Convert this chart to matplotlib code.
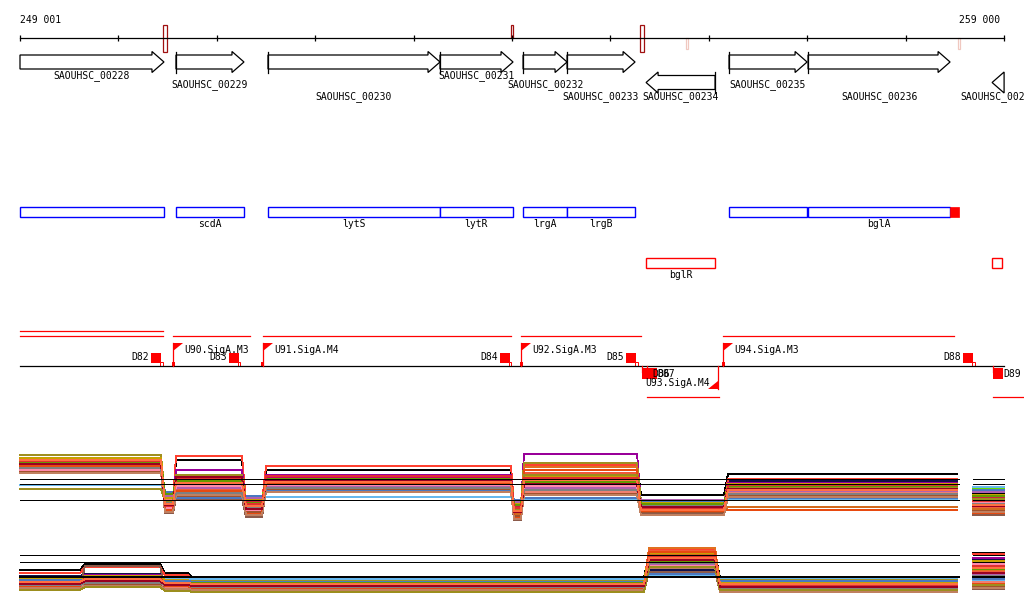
import numpy as np
import matplotlib
matplotlib.use("Agg")
import matplotlib.pyplot as plt
from matplotlib.patches import Polygon, Rectangle

plt.rcParams['font.family'] = ['DejaVu Sans Mono', 'DejaVu Sans']

# ---- data -------------------------------------------------------------
view_start, view_end = 249001, 259000
ruler_ticks = [249001, 250000, 251000, 252000, 253000, 254000, 255000,
               256000, 257000, 258000, 259000]

# marks on the ruler (bp), strong ones dark red, weak ones pale
mark_start = [250454, 253990, 255306, 255769, 258533]
mark_end = [250495, 254010, 255337, 255790, 258553]
mark_kind = ['tall', 'short', 'tall', 'weak', 'weak']

gene_names = ['SAOUHSC_00228', 'SAOUHSC_00229', 'SAOUHSC_00230', 'SAOUHSC_00231',
              'SAOUHSC_00232', 'SAOUHSC_00233', 'SAOUHSC_00234', 'SAOUHSC_00235',
              'SAOUHSC_00236', 'SAOUHSC_00237']
gene_start = [249001, 250586, 251521, 253269, 254113, 254560, 255363, 256206, 257009, 258879]
gene_end = [250464, 251277, 253269, 254011, 254560, 255251, 256064, 256999, 258452, 259001]
gene_strand = ['+', '+', '+', '+', '+', '+', '-', '+', '+', '-']
label_row = [0, 1, 2, 0, 1, 2, 2, 1, 2, 2]

gene_symbol = ['', 'scdA', 'lytS', 'lytR', 'lrgA', 'lrgB', 'bglR', '', 'bglA', '']

# transcription units
tu_upper_start = [249001, 249001, 250556, 251470, 254092, 256145]
tu_upper_end = [250454, 250454, 251338, 253990, 255311, 258492]
tu_upper_row = [0, 1, 1, 1, 1, 1]
tu_lower_start = [255372, 258888]
tu_lower_end = [256104, 259300]

prom_names = ['U90.SigA.M3', 'U91.SigA.M4', 'U92.SigA.M3', 'U94.SigA.M3', 'U93.SigA.M4']
prom_pos = [250556, 251470, 254092, 256145, 256094]
prom_strand = ['+', '+', '+', '+', '-']

term_names = ['D82', 'D83', 'D84', 'D85', 'D88', 'D86', 'D87', 'D89']
term_pos = [250434, 251226, 253980, 255261, 258685, 255322, 255372, 258888]
term_strand = ['+', '+', '+', '+', '+', '-', '-', '-']

# expression track 1: segment edges (bp) and level of each profile per segment
t1_seg_start = [249001, 250474, 250586, 251298, 251501, 254021, 254122, 255311, 256195, 258685]
t1_seg_end = [250434, 250556, 251257, 251460, 253990, 254092, 255271, 256155, 258522, 259000]
t1_s0 = [62, 57, 66, 63, 70, 64, 65, 61, 60, 53, 40, 59, 58, 56, 54, 62, 67, 60, 58, 55, 63, 59, 52, 57, 36, 64, 61, 65]
t1_s1 = [20, 26, 24, 22, 28, 18, 30, 14, 21, 12, 32, 16, 19, 25, 20, 23, 27, 29, 33, 17, 31, 15, 13, 22, 24, 19, 20, 21]
t1_s2 = [65, 28, 69, 55, 50, 45, 40, 38, 43, 26, 36, 35, 33, 31, 29, 41, 46, 37, 27, 39, 44, 34, 30, 32, 42, 47, 48, 42]
t1_s3 = [15, 18, 22, 20, 24, 12, 26, 16, 19, 8, 28, 14, 17, 21, 13, 23, 25, 27, 29, 15, 22, 11, 10, 18, 20, 21, 16, 19]
t1_s4 = [55, 40, 59, 50, 48, 46, 44, 43, 47, 35, 28, 41, 39, 37, 36, 45, 42, 38, 34, 40, 46, 42, 33, 37, 44, 49, 44, 43]
t1_s5 = [12, 15, 20, 18, 22, 10, 16, 8, 14, 5, 24, 12, 11, 17, 9, 19, 21, 23, 25, 13, 20, 7, 6, 16, 15, 17, 13, 14]
t1_s6 = [62, 38, 60, 71, 62, 58, 44, 40, 42, 34, 25, 52, 36, 33, 31, 46, 48, 37, 27, 39, 43, 55, 30, 35, 50, 47, 41, 45]
t1_s7 = [30, 20, 18, 22, 24, 16, 14, 12, 19, 11, 23, 17, 15, 21, 13, 20, 22, 25, 24, 18, 21, 14, 10, 19, 17, 16, 18, 15]
t1_s8 = [51, 44, 46, 42, 40, 38, 37, 36, 39, 30, 26, 33, 18, 32, 29, 35, 41, 34, 27, 36, 38, 15, 28, 31, 37, 40, 36, 35]
t1_s9 = [32, 30, 28, 26, 34, 22, 36, 20, 24, 10, 38, 18, 16, 25, 14, 27, 30, 33, 35, 23, 29, 12, 13, 21, 26, 24, 19, 20]
t1_ref = [46, 41, 25]

# expression track 2
t2_seg_start = [249001, 249661, 250474, 250759, 255393, 256114, 258685]
t2_seg_end = [249611, 250424, 250708, 255342, 256064, 258522, 259000]
t2_s0 = [30, 24, 27, 22, 20, 17, 19, 15, 18, 12, 21, 16, 14, 13, 11, 19, 21, 17, 20, 16, 18, 14, 12, 15, 10, 17, 16, 18]
t2_s1 = [36, 26, 33, 25, 23, 21, 22, 18, 20, 34, 22, 19, 17, 16, 15, 21, 24, 18, 19, 17, 20, 18, 14, 17, 13, 22, 19, 21]
t2_s2 = [27, 20, 25, 18, 22, 16, 19, 14, 17, 10, 21, 15, 13, 12, 11, 18, 20, 16, 19, 15, 17, 14, 11, 15, 9, 16, 15, 17]
t2_s3 = [22, 17, 19, 16, 20, 14, 18, 13, 15, 9, 21, 12, 11, 12, 10, 15, 17, 16, 18, 14, 17, 11, 10, 13, 8, 15, 14, 16]
t2_s4 = [47, 30, 50, 44, 45, 52, 42, 40, 41, 28, 24, 49, 46, 38, 36, 43, 47, 35, 26, 34, 39, 48, 32, 37, 33, 44, 40, 42]
t2_s5 = [23, 19, 17, 15, 20, 14, 18, 16, 13, 8, 22, 12, 10, 11, 9, 14, 17, 15, 19, 13, 16, 9, 8, 12, 10, 15, 13, 16]
t2_s6 = [47, 40, 46, 42, 37, 30, 35, 25, 33, 11, 20, 28, 22, 18, 14, 38, 39, 26, 21, 36, 31, 16, 12, 24, 15, 34, 27, 32]
t2_ref = [45, 38]
t2_base = 23

line_colors = ['#000000', '#10104a', '#ff4030', '#990099', '#a09020', '#e07020', '#66dd00',
               '#99bb00', '#cc0066', '#8b5a4a', '#66b8ee', '#f05a3a', '#d2691e', '#f08070',
               '#a0522d', '#cc2040', '#c8a000', '#b060b0', '#4a78c0', '#ff88aa', '#669900',
               '#e84a10', '#c08060', '#808080', '#9c8e1e', '#e03030', '#990022', '#ff7040']

# ---- figure -----------------------------------------------------------
bp_px = (view_end - view_start) / 984.0
x_left = view_start - 20 * bp_px
x_right = view_start + 1004 * bp_px
gap_start, gap_end = 258540, 258680

fig = plt.figure(figsize=(10.24, 6.11), dpi=100)
ax = fig.add_axes([0, 0, 1, 1])
ax.set_xlim(x_left, x_right)
ax.set_ylim(611, 0)
ax.axis('off')
fs = 7

# ruler
ax.plot([view_start, view_end], [38, 38], color='black', lw=0.9)
ax.vlines(ruler_ticks, 35, 41, color='black', lw=0.9)
ax.text(view_start, 20, '249 001', fontsize=fs, ha='left', va='center')
ax.text(view_end - 40, 20, '259 000', fontsize=fs, ha='right', va='center')
for s, e, k in zip(mark_start, mark_end, mark_kind):
    if k == 'tall':
        ax.add_patch(Rectangle((s, 25), e - s, 27, fc='white', ec='#a01010', lw=0.9))
    elif k == 'short':
        ax.add_patch(Rectangle((s, 25), e - s, 13, fc='white', ec='#a01010', lw=0.9))
    else:
        ax.add_patch(Rectangle((s, 38), e - s, 11, fc='white', ec='#f0c8c0', lw=0.9))

# gene arrows
head = 12 * bp_px
row_y = [76, 85, 97]
for name, s, e, st, r in zip(gene_names, gene_start, gene_end, gene_strand, label_row):
    if st == '+':
        yc = 62
        hb = max(e - head, s)
        pts = [(s, yc - 7), (hb, yc - 7), (hb, yc - 10.5), (e, yc), (hb, yc + 10.5), (hb, yc + 7), (s, yc + 7)]
        if s > view_start:
            ax.plot([s, s], [yc - 10.5, yc + 10.5], color='black', lw=0.9)
    else:
        yc = 82.5
        hb = min(s + head, e)
        pts = [(e, yc - 7), (hb, yc - 7), (hb, yc - 10.5), (s, yc), (hb, yc + 10.5), (hb, yc + 7), (e, yc + 7)]
        if e < view_end:
            ax.plot([e, e], [yc - 10.5, yc + 10.5], color='black', lw=0.9)
    ax.add_patch(Polygon(pts, closed=True, fc='white', ec='black', lw=0.9))
    ax.text((s + e) / 2, row_y[r], name, fontsize=fs, ha='center', va='center')

# gene symbol boxes
for sym, s, e, st in zip(gene_symbol, gene_start, gene_end, gene_strand):
    if st == '+':
        ax.add_patch(Rectangle((s, 207), e - s, 10, fc='white', ec='#0000ff', lw=1.0))
        if sym:
            ax.text((s + e) / 2, 224, sym, fontsize=fs, ha='center', va='center')
    else:
        e2 = min(e, view_end - 20)
        ax.add_patch(Rectangle((s, 258), e2 - s, 10, fc='white', ec='#ff0000', lw=1.0))
        if sym:
            ax.text((s + e) / 2, 275, sym, fontsize=fs, ha='center', va='center')
ax.add_patch(Rectangle((gene_end[8], 207), 9 * bp_px, 10, fc='#ff0000', ec='#ff0000', lw=0.5))

# transcription units, promoters, terminators
ax.plot([view_start, view_end], [366, 366], color='black', lw=0.9)
for s, e, r in zip(tu_upper_start, tu_upper_end, tu_upper_row):
    y = 331 if r == 0 else 336
    ax.plot([s, e], [y, y], color='#ff0000', lw=0.9)
for s, e in zip(tu_lower_start, tu_lower_end):
    ax.plot([s, e], [397, 397], color='#ff0000', lw=0.9)

for name, p, st in zip(prom_names, prom_pos, prom_strand):
    if st == '+':
        ax.plot([p, p], [343, 366], color='#ff0000', lw=0.9)
        ax.add_patch(Polygon([(p, 343), (p + 10 * bp_px, 343), (p, 351)], fc='#ff0000', ec='none'))
        ax.add_patch(Rectangle((p - 1.5 * bp_px, 362), 3 * bp_px, 4, fc='#ff0000', ec='none'))
        ax.text(p + 11 * bp_px, 350, name, fontsize=fs, ha='left', va='center')
    else:
        ax.plot([p, p], [366, 389], color='#ff0000', lw=0.9)
        ax.add_patch(Polygon([(p, 389), (p - 10 * bp_px, 389), (p, 381)], fc='#ff0000', ec='none'))
        ax.text(p - 8 * bp_px, 383, name, fontsize=fs, ha='right', va='center')

for name, p, st in zip(term_names, term_pos, term_strand):
    if st == '+':
        ax.add_patch(Rectangle((p - 10 * bp_px, 353), 10 * bp_px, 10, fc='#ff0000', ec='none'))
        ax.add_patch(Rectangle((p - 1 * bp_px, 362), 2.5 * bp_px, 4, fc='white', ec='#ff0000', lw=0.7))
        ax.text(p - 12 * bp_px, 357, name, fontsize=fs, ha='right', va='center')
    else:
        ax.plot([p, p], [366, 372], color='#ff0000', lw=0.9)
        ax.add_patch(Rectangle((p, 368), 10 * bp_px, 11, fc='#ff0000', ec='none'))
        ax.text(p + 10 * bp_px, 374, name, fontsize=fs, ha='left', va='center')


def profile(starts, ends, levels):
    xs, ys = [], []
    for s, e, v in zip(starts, ends, levels):
        if s > gap_end and xs and xs[-1] < gap_start + 1:
            xs.append(np.nan)
            ys.append(np.nan)
        xs += [s, e]
        ys += [v, v]
    return xs, ys


def ref_line(a, v, lw):
    a.plot([view_start, gap_start], [v, v], color='black', lw=lw, antialiased=False)
    a.plot([gap_end, view_end], [v, v], color='black', lw=lw, antialiased=False)


# expression track 1
ax1 = fig.add_axes([0, (611 - 525) / 611, 1, 80 / 611])
ax1.set_xlim(x_left, x_right)
ax1.set_ylim(0, 80)
ax1.axis('off')
t1_cols = [t1_s0, t1_s1, t1_s2, t1_s3, t1_s4, t1_s5, t1_s6, t1_s7, t1_s8, t1_s9]
for i, c in enumerate(line_colors):
    xs, ys = profile(t1_seg_start, t1_seg_end, [col[i] for col in t1_cols])
    ax1.plot(xs, ys, color=c, lw=0.6, antialiased=False)
for v in t1_ref:
    ref_line(ax1, v, 0.65)

# expression track 2
ax2 = fig.add_axes([0, (611 - 600) / 611, 1, 55 / 611])
ax2.set_xlim(x_left, x_right)
ax2.set_ylim(0, 55)
ax2.axis('off')
t2_cols = [t2_s0, t2_s1, t2_s2, t2_s3, t2_s4, t2_s5, t2_s6]
for i, c in enumerate(line_colors):
    xs, ys = profile(t2_seg_start, t2_seg_end, [col[i] for col in t2_cols])
    ax2.plot(xs, ys, color=c, lw=0.6, antialiased=False)
for v in t2_ref:
    ref_line(ax2, v, 0.65)
ref_line(ax2, t2_base, 1.3)

fig.savefig('out.png', dpi=100)
